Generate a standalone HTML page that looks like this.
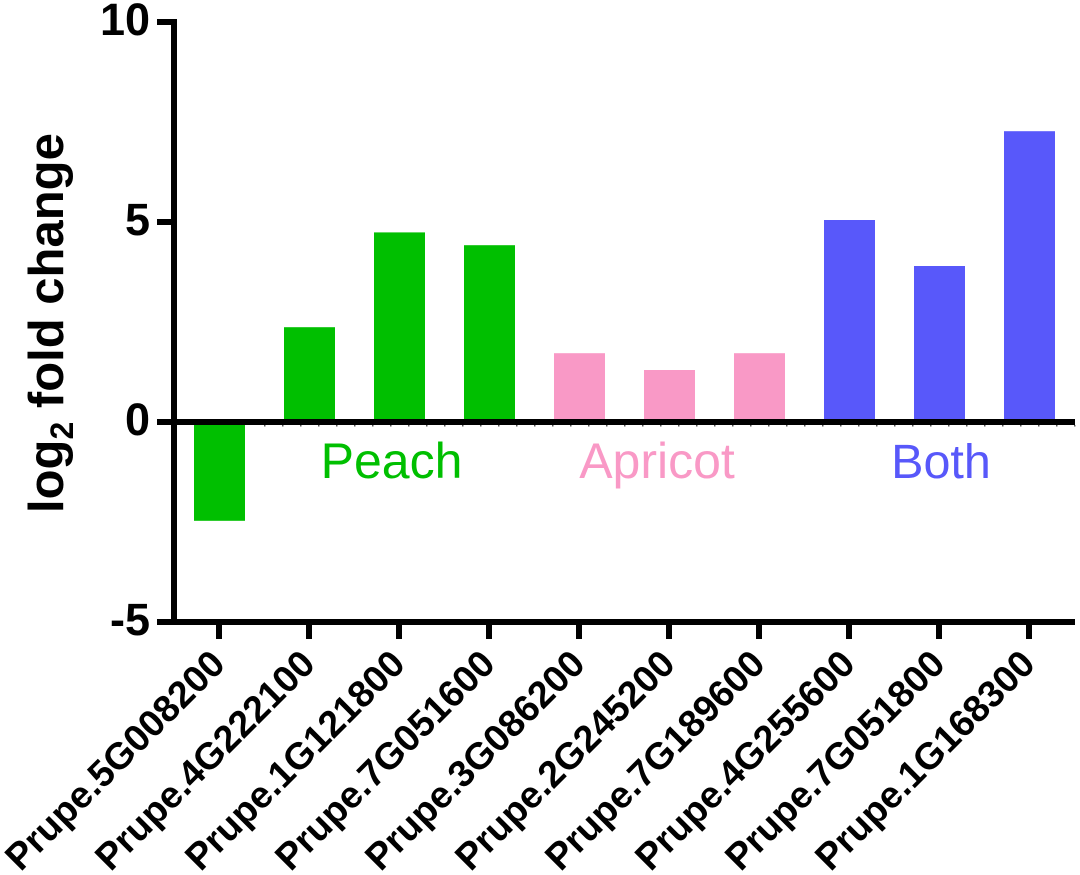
<!DOCTYPE html>
<html lang="en">
<head>
<meta charset="utf-8">
<title>log2 fold change by gene</title>
<style>
html,body{margin:0;padding:0;background:#fff;width:1080px;height:875px;overflow:hidden}
svg{display:block;font-family:"Liberation Sans",Arial,sans-serif}
</style>
</head>
<body>
<svg id="chart" xmlns="http://www.w3.org/2000/svg" width="1080" height="875" viewBox="0 0 1080 875"></svg>
<script>
const categories = ["Prupe.5G008200","Prupe.4G222100","Prupe.1G121800","Prupe.7G051600","Prupe.3G086200","Prupe.2G245200","Prupe.7G189600","Prupe.4G255600","Prupe.7G051800","Prupe.1G168300"];
const foldChanges = [-2.47,2.37,4.74,4.42,1.72,1.3,1.72,5.05,3.9,7.27];
const groups = ["Peach","Peach","Peach","Peach","Apricot","Apricot","Apricot","Both","Both","Both"];
const yTicks = [-5,0,5,10];
const groupColors = {Peach:"#00bf00",Apricot:"#f999c6",Both:"#5858fa"};

const NS = "http://www.w3.org/2000/svg";
const svg = document.getElementById("chart");
const yScale = v => 422 - v * 40;
const xScale = i => 219 + i * 90;
const BAR_W = 51;

function make(tag, attrs, parent, text) {
  const el = document.createElementNS(NS, tag);
  for (const k in attrs) el.setAttribute(k, attrs[k]);
  if (text !== undefined) el.textContent = text;
  (parent || svg).appendChild(el);
  return el;
}

/* bars */
categories.forEach((c, i) => {
  const v = foldChanges[i];
  const y0 = yScale(0), y1 = yScale(v);
  const bar = make("rect", {x: xScale(i) - BAR_W / 2 + 0.5, y: Math.min(y0, y1), width: BAR_W, height: Math.abs(y1 - y0), fill: groupColors[groups[i]]});
  
  
});

/* y axis */
const yAxis = make("rect", {x: 171, y: 19, width: 6, height: 606, fill: "#000"});


yTicks.forEach(t => {
  if (t !== 0 && t !== -5) {
    const tick = make("rect", {x: 157, y: yScale(t) - 3, width: 20, height: 6, fill: "#000"});
    
    
  }
  const label = make("text", {x: 150, y: yScale(t) + 13, "text-anchor": "end", "font-size": 45, "font-weight": "bold", fill: "#000"}, svg, String(t));
  
  
});

/* zero line, bottom line */
const zeroLine = make("rect", {x: 157, y: yScale(0) - 3, width: 918, height: 6, fill: "#000"});


const xAxis = make("rect", {x: 157, y: yScale(-5) - 3, width: 918, height: 6, fill: "#000"});



/* tiny marks under the zero line */
const minor = make("g", {fill: "#555"});


for (let x = 264; x < 1075; x += 18) {
  make("rect", {x: x, y: yScale(0) + 3, width: 1.5, height: 1.5}, minor);
}

/* x ticks and labels */
categories.forEach((c, i) => {
  const x = xScale(i);
  const tick = make("rect", {x: x - 3, y: 625, width: 6, height: 14, fill: "#000"});
  
  
  const label = make("text", {transform: "translate(" + (x + 8) + " 666) rotate(-45)", "text-anchor": "end", "font-size": 37.5, "font-weight": "bold", fill: "#000"}, svg, c);
  
  
});

/* group labels */
const groupLabels = [["Peach", 391.5, 50], ["Apricot", 657, 50], ["Both", 941, 48.5]];
groupLabels.forEach(g => {
  const t = make("text", {x: g[1], y: 478, "text-anchor": "middle", "font-size": g[2], fill: groupColors[g[0]]}, svg, g[0]);
  
  
});

/* y axis title */
const title = make("text", {transform: "translate(63 513) rotate(-90)", "font-size": 49, "font-weight": "bold", fill: "#000"});


make("tspan", {}, title, "log");
make("tspan", {dy: 10, "font-size": 32}, title, "2");
make("tspan", {dy: -10}, title, " fold change");
</script>
</body>
</html>
